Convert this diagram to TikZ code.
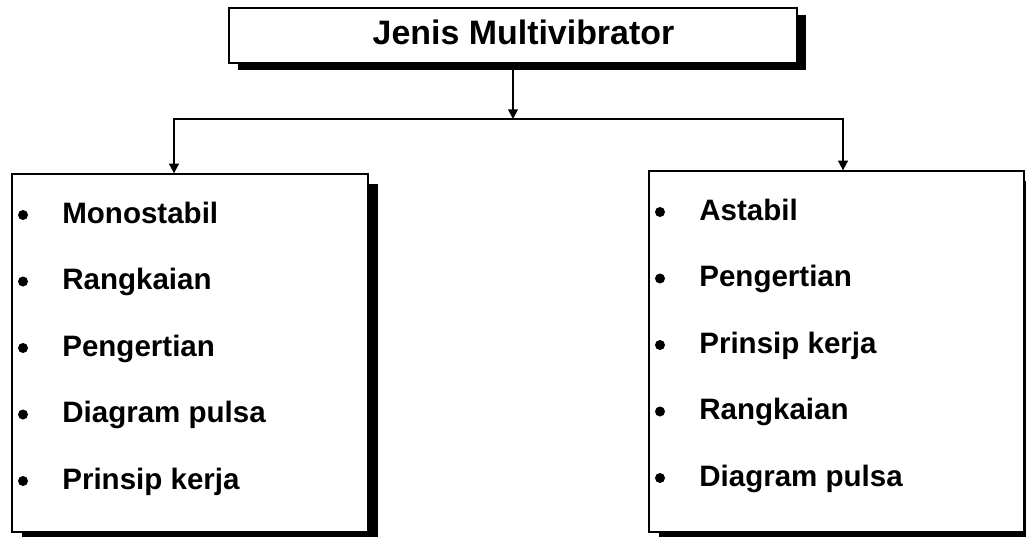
\documentclass[tikz,border=0pt]{standalone}
\usepackage{fontspec}
\setmainfont{Liberation Sans}
\usetikzlibrary{shadows,arrows.meta,positioning}

\tikzset{
  box/.style={draw, line width=0.75pt, fill=white, inner sep=0pt},
  bayang/.style={drop shadow={shadow xshift=#1, shadow yshift=-#1, fill=black, opacity=1}},
  conn/.style={line width=1.1pt, -{Triangle[width=5.5pt,length=5.5pt]}},
  item/.style={anchor=base west, inner sep=0pt, font=\bfseries\fontsize{16.8}{20}\selectfont},
  dot/.style={circle, fill, inner sep=0pt, minimum size=0.2cm},
}

\begin{document}
\begin{tikzpicture}
	\useasboundingbox (0,0) rectangle (20.52,-10.74);

	% kotak judul
	\node[box, minimum width=11.36cm, minimum height=1.1cm,
	      drop shadow={shadow xshift=0.18cm, shadow yshift=-0.14cm, fill=black, opacity=1}] (judul) at (10.26,-0.71) {};
	\node[anchor=base, inner sep=0pt, font=\bfseries\fontsize{19.3}{23}\selectfont] (judulteks) at (10.47,-0.9) {Jenis Multivibrator};

	% kotak kiri dan kanan
	\node[box, minimum width=7.12cm, minimum height=7.16cm, bayang=0.2cm] (mono) at (3.8,-7.06) {};
	\node[box, minimum width=7.5cm, minimum height=7.22cm, bayang=0.2cm] (asta) at (16.73,-7.03) {};

	% panah
	\coordinate (cabang) at (10.26,-2.38);
	\draw[conn] (judul.south) -- (cabang);
	\draw[conn] (cabang) -| ([xshift=-0.32cm]mono.north);
	\draw[conn] (cabang) -| ([xshift=0.13cm]asta.north);

	% isi kotak kiri
	\foreach \t [count=\i] in {Monostabil, Rangkaian, Pengertian, Diagram pulsa, Prinsip kerja} {
		\node[dot] (mb\i) at (0.46,{-4.30-1.33*(\i-1)}) {};
		\node[item] (mt\i) at (1.24,{-4.46-1.33*(\i-1)}) {\t};
	}

	% isi kotak kanan
	\foreach \t [count=\i] in {Astabil, Pengertian, Prinsip kerja, Rangkaian, Diagram pulsa} {
		\node[dot] (ab\i) at (13.2,{-4.24-1.33*(\i-1)}) {};
		\node[item] (at\i) at (13.98,{-4.40-1.33*(\i-1)}) {\t};
	}
\end{tikzpicture}
\end{document}
